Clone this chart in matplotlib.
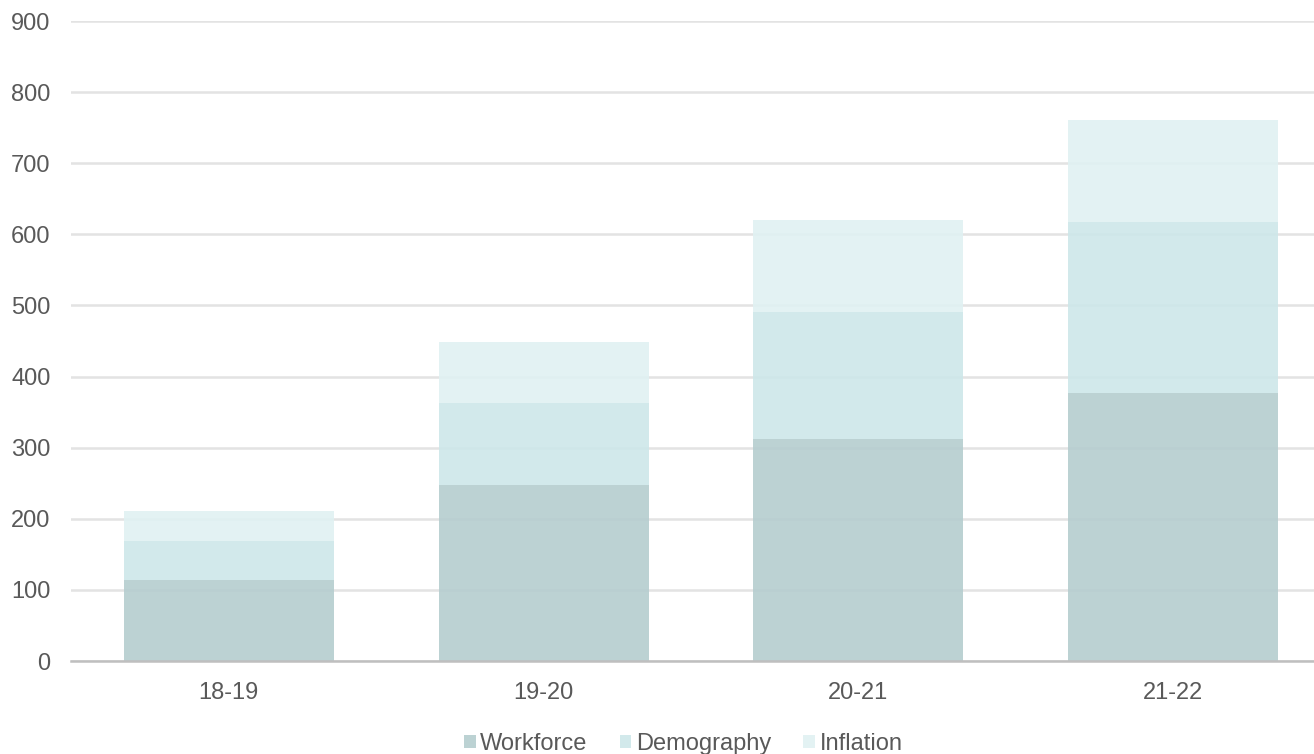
import matplotlib
matplotlib.use("Agg")
import matplotlib.pyplot as plt
import numpy as np

# -----------------------------
# Data
# -----------------------------
years = ["18-19", "19-20", "20-21", "21-22"]
workforce = [114, 247, 312, 377]
demography = [55, 116, 179, 240]
inflation = [42, 86, 129, 144]

series_names = ["Workforce", "Demography", "Inflation"]
colors = ["#b5cdcf", "#cde7e9", "#e0f1f2"]

plt.rcParams["font.family"] = ["Liberation Sans", "DejaVu Sans"]

fig = plt.figure(figsize=(13.14, 7.54), dpi=100)
ax = fig.add_axes([0.0544, 0.1233, 1.0126 - 0.0544, 0.9721 - 0.1233])

x = np.arange(len(years))
bottom = np.zeros(len(years))
for vals, name, col in zip([workforce, demography, inflation], series_names, colors):
    ax.bar(x, vals, width=0.667, bottom=bottom, color=col, label=name,
           alpha=0.9, zorder=2)
    bottom += np.array(vals)

ax.set_xlim(-0.5, 3.5)
ax.set_ylim(0, 900)
ax.set_yticks(range(0, 901, 100))
ax.set_xticks(x)
ax.set_xticklabels(years)

ax.grid(axis="y", color="#e3e3e3", linewidth=1.8, zorder=0)
ax.set_axisbelow(True)
for side in ["top", "right", "left"]:
    ax.spines[side].set_visible(False)
ax.spines["bottom"].set_color("#bfbfbf")
ax.spines["bottom"].set_linewidth(1.8)
ax.spines["bottom"].set_zorder(3)

ax.tick_params(axis="both", length=0, labelsize=17, colors="#595959")
ax.tick_params(axis="y", pad=15)
ax.tick_params(axis="x", pad=15)

leg = fig.legend(loc="lower center", bbox_to_anchor=(0.52, -0.029), ncol=3,
                 frameon=False, fontsize=17, handlelength=0.5,
                 handleheight=0.5, handletextpad=0.2, columnspacing=1.35)
for t in leg.get_texts():
    t.set_color("#595959")

fig.savefig("out.png", dpi=100)
